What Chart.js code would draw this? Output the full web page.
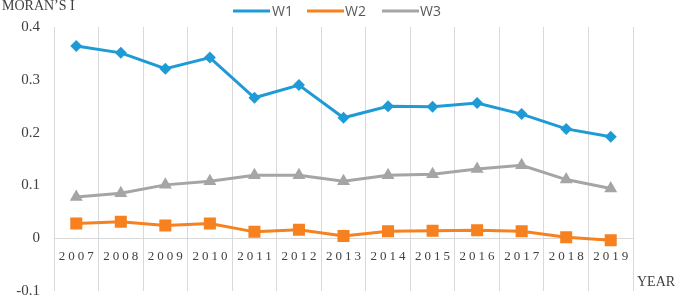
<!DOCTYPE html>
<html lang="en">
<head>
    <meta charset="UTF-8">
    <title>Moran's I by year</title>
    <script src="https://cdn.jsdelivr.net/npm/chart.js"></script>
    <style>
        html, body { margin: 0; padding: 0; background: #fff; }
        #wrap { width: 678px; height: 296px; position: relative; }
    </style>
</head>
<body>
    <div id="wrap"><canvas id="chart"></canvas></div>
    <script>
        // data
        const years = ['2007', '2008', '2009', '2010', '2011', '2012', '2013', '2014', '2015', '2016', '2017', '2018', '2019'];
        const w1 = [0.364, 0.351, 0.321, 0.342, 0.266, 0.290, 0.228, 0.250, 0.249, 0.256, 0.235, 0.207, 0.192];
        const w2 = [0.028, 0.031, 0.024, 0.028, 0.012, 0.016, 0.004, 0.013, 0.014, 0.015, 0.013, 0.002, -0.004];
        const w3 = [0.078, 0.085, 0.101, 0.108, 0.119, 0.119, 0.108, 0.119, 0.121, 0.131, 0.138, 0.111, 0.094];
        const seriesNames = ['W1', 'W2', 'W3'];
        const yTicks = [-0.1, 0, 0.1, 0.2, 0.3, 0.4];

        const serif = '"Liberation Serif", "DejaVu Serif", serif';
        const textColor = '#404040';

        // x labels are spaced out like the original, so they are drawn here
        const extras = {
            id: 'extras',
            afterDraw(chart) {
                const ctx = chart.ctx;
                const x = chart.scales.x, y = chart.scales.y;
                ctx.save();
                ctx.fillStyle = textColor;
                ctx.font = '13px ' + serif;
                ctx.textAlign = 'center';
                ctx.textBaseline = 'middle';
                ctx.letterSpacing = '3px';
                const ly = y.getPixelForValue(0) + 18;
                years.forEach((yr, i) => {
                    ctx.fillText(yr, x.getPixelForValue(i) + 1.5, ly);
                });
                ctx.letterSpacing = '0px';
                ctx.font = '14px ' + serif;
                ctx.textAlign = 'left';
                ctx.fillText('YEAR', 637, 282);
                ctx.fillText('MORAN\u2019S I', 2, 6);

                // legend: line with marker in the middle
                const items = [[233, 272], [307, 345], [382, 420]];
                ctx.font = '14px "Open Sans", "DejaVu Sans", sans-serif';
                chart.data.datasets.forEach((ds, i) => {
                    const [lx, tx] = items[i];
                    const cy = 11;
                    ctx.strokeStyle = ds.borderColor;
                    ctx.lineWidth = 3;
                    ctx.beginPath();
                    ctx.moveTo(lx, cy);
                    ctx.lineTo(lx + 37, cy);
                    ctx.stroke();
                    ctx.fillStyle = ds.borderColor;
                    Chart.helpers.drawPoint(ctx, {
                        pointStyle: ds.pointStyle,
                        rotation: 0,
                        borderWidth: 0
                    }, lx + 18.5, cy, ds.pointRadius * 0.7);
                    ctx.fill();
                    ctx.fillStyle = '#595959';
                    ctx.fillText(ds.label, tx, cy + 1);
                });
                ctx.restore();
            }
        };

        new Chart(document.getElementById('chart'), {
            type: 'line',
            data: {
                labels: years,
                datasets: [
                    { label: seriesNames[0], data: w1, borderColor: '#1e9bd7', backgroundColor: '#1e9bd7', pointStyle: 'rectRot', pointRadius: 6 },
                    { label: seriesNames[1], data: w2, borderColor: '#f7801f', backgroundColor: '#f7801f', pointStyle: 'rect', pointRadius: 8.5 },
                    { label: seriesNames[2], data: w3, borderColor: '#a5a5a5', backgroundColor: '#a5a5a5', pointStyle: 'triangle', pointRadius: 7.5 }
                ].map(d => Object.assign(d, { borderWidth: 3, pointBorderWidth: 0, tension: 0, fill: false }))
            },
            options: {
                responsive: true,
                maintainAspectRatio: false,
                animation: false,
                layout: { autoPadding: false, padding: { top: 27, right: 45, bottom: 5, left: 0 } },
                plugins: {
                    legend: { display: false },
                    tooltip: { enabled: false }
                },
                scales: {
                    x: {
                        offset: true,
                        afterFit: s => { s.height = 0; },
                        grid: { offset: true, color: '#d9d9d9', lineWidth: 1, drawTicks: false },
                        border: { display: false },
                        ticks: { display: false }
                    },
                    y: {
                        min: -0.1,
                        max: 0.4,
                        afterBuildTicks: s => { s.ticks = yTicks.map(v => ({ value: v })); },
                        afterFit: s => { s.width = 54; s.paddingBottom = 0; s.paddingTop = 0; },
                        grid: {
                            drawTicks: false,
                            color: c => (c.tick && c.tick.value === 0 ? '#d9d9d9' : 'rgba(0,0,0,0)')
                        },
                        border: { display: false },
                        ticks: {
                            padding: 14,
                            color: textColor,
                            font: { family: serif, size: 15 },
                            callback: v => String(Number(v.toFixed(1)))
                        }
                    }
                }
            },
            plugins: [extras]
        });
    </script>
</body>
</html>
